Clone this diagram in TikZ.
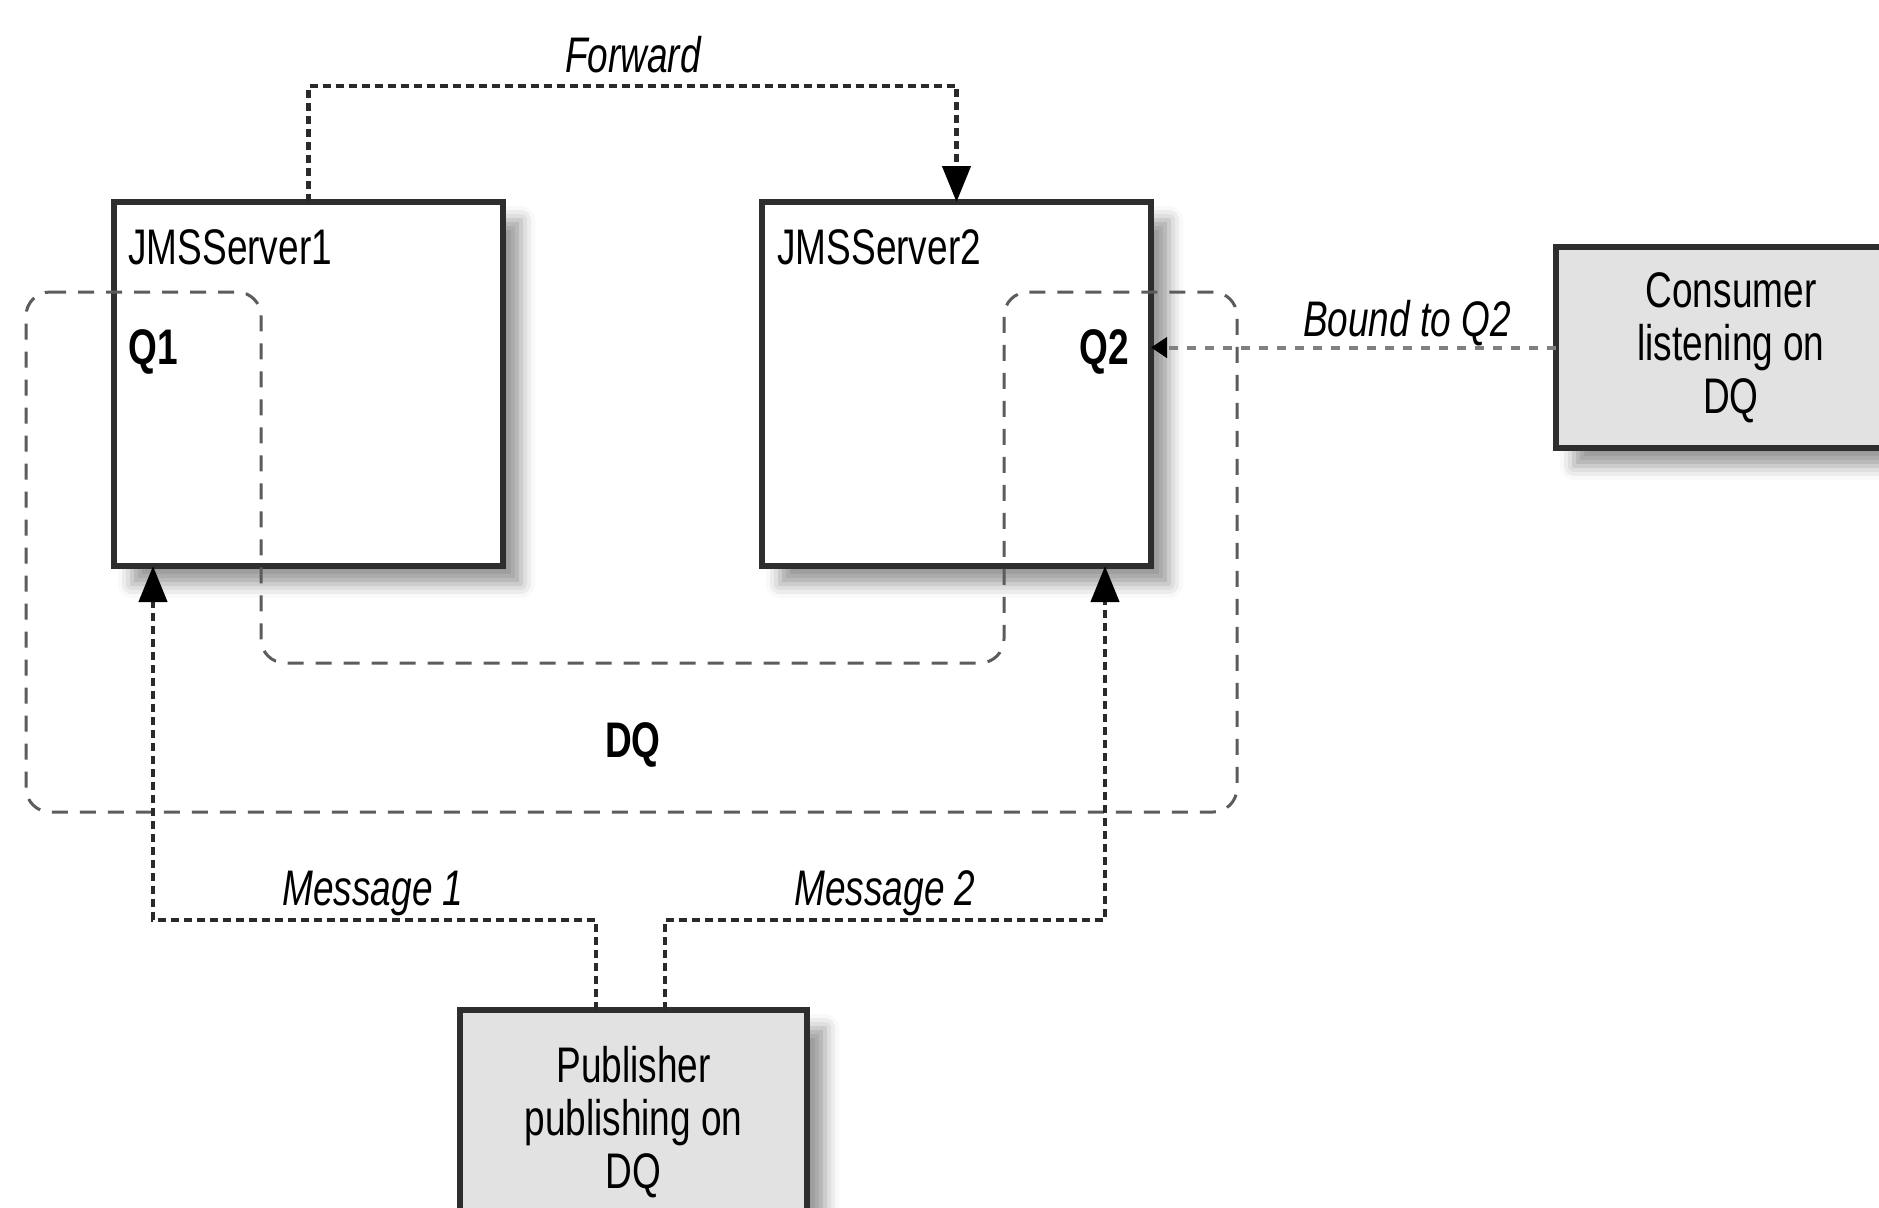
\documentclass[tikz,border=0pt]{standalone}
\usepackage{fontspec}
\setmainfont{Liberation Sans}[FakeStretch=0.74]
\usetikzlibrary{arrows.meta,shadows.blur,calc}

\definecolor{boxline}{HTML}{2E2E2E}
\definecolor{boxfill}{HTML}{E2E2E2}
\definecolor{dqline}{HTML}{5C5C5C}
\definecolor{flowline}{HTML}{2A2A2A}
\definecolor{bindline}{HTML}{808080}

\begin{document}
\begin{tikzpicture}[x=0.5pt,y=-0.5pt,
  txt/.style={font=\fontsize{25}{26.5}\selectfont, inner sep=0pt},
  itl/.style={txt, font=\fontsize{25}{26.5}\selectfont\itshape},
  bld/.style={txt, font=\fontsize{25}{26.5}\selectfont\bfseries},
  boxshadow/.style={blur shadow={shadow xshift=9pt, shadow yshift=-9pt,
      shadow blur radius=7pt, shadow opacity=40}},
  server/.style={draw=boxline, line width=3pt, fill=white, anchor=north west,
      inner sep=0pt, outer sep=0pt, minimum width=194.5pt, minimum height=182pt, boxshadow},
  client/.style={draw=boxline, line width=3pt, fill=boxfill, anchor=north west,
      inner sep=0pt, outer sep=0pt, align=center, txt, boxshadow},
  dqedge/.style={draw=dqline, line width=1.5pt, dash pattern=on 8pt off 6pt, rounded corners=12pt},
  flow/.style={draw=flowline, line width=2.2pt, dash pattern=on 4pt off 2.5pt},
  flowtip/.style={-{Triangle[length=18pt,width=14pt,color=black]}},
  bind/.style={draw=bindline, line width=2pt, dash pattern=on 4.5pt off 4.5pt,
      -{Triangle[length=8pt,width=10pt,color=black]}}
]
\path[use as bounding box] (0,0) rectangle (1879,1207);
\clip (0,0) rectangle (1879,1207);

% servers and clients
\node[server] (srv1) at (114,202) {};
\node[server] (srv2) at (762,202) {};
\node[client, minimum width=175pt, minimum height=100.5pt] (cons) at (1556,247)
  {Consumer\\listening on\\DQ};
\node[client, minimum width=173.5pt, minimum height=112pt] (pub) at (460,1010)
  {Publisher\\publishing on\\DQ};

% server and queue names
\node[txt, anchor=base west] (srv1name) at (128,264) {JMSServer1};
\node[txt, anchor=base west] (srv2name) at (777,264) {JMSServer2};
\node[bld, anchor=base west] (q1) at (128,364) {Q1};
\node[bld, anchor=base east] (q2) at (1129,364) {Q2};

% outline of the distributed queue spanning both members
\draw[dqedge] (26,292) -- (261,292) -- (261,663) -- (1004,663) -- (1004,292)
  -- (1237,292) -- (1237,812) -- (26,812) -- cycle;
\node[bld, anchor=base] (dq) at (633,757) {DQ};

% forwarding between the servers
\draw[flow, flowtip] (srv1.north) -- ++(0,-116) -| (srv2.north);
\node[itl, anchor=base] (fwd) at (633,72) {Forward};

% publisher messages
\draw[flow, flowtip] ([xshift=-18.75pt]pub.north) -- ++(0,-90) -| ([xshift=-77.75pt]srv1.south);
\draw[flow, flowtip] ([xshift=15.75pt]pub.north) -- ++(0,-90) -| ([xshift=74.25pt]srv2.south);
\node[itl, anchor=base] (msg1) at (373,905) {Message 1};
\node[itl, anchor=base] (msg2) at (885,905) {Message 2};

% consumer binding
\draw[bind] (cons.west) -- (cons.west -| srv2.east);
\node[itl, anchor=base] (bound) at (1407,336) {Bound to Q2};
\end{tikzpicture}
\end{document}
